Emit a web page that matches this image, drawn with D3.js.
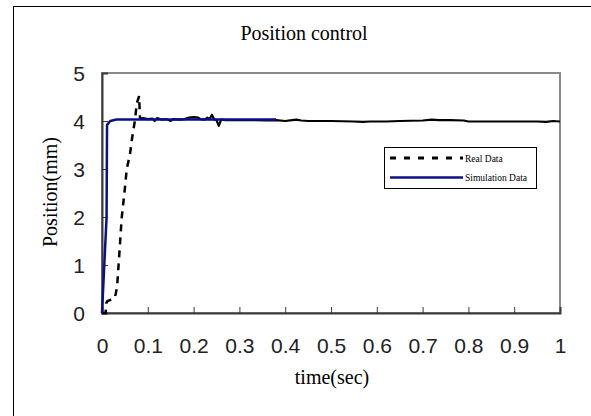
<html>
<head>
    <title>Position control</title>
    <style>
        body { margin: 0; background: white; }
        .tick text { font-family: "Liberation Sans", Arial, sans-serif; font-size: 21px; fill: #222; }
        .serif { font-family: "Liberation Serif", "Times New Roman", serif; fill: black; }
    </style>
    <script src="https://cdn.jsdelivr.net/npm/d3@7"></script>
</head>
<body>
<div id="chart"></div>
<script>
    // simulation result (blue)
    var simTime = [0, 0.01, 0.011, 0.018, 0.032, 0.38];
    var simPos  = [0, 2.0, 3.92, 4.0, 4.03, 4.03];

    // measured response, rising part (drawn dashed)
    var riseTime = [0, 0.008, 0.009, 0.012, 0.027, 0.03, 0.033, 0.036, 0.043, 0.05, 0.054,
                    0.061, 0.065, 0.072, 0.076, 0.081, 0.083];
    var risePos  = [0, 0, 0.2, 0.25, 0.3, 0.4, 0.55, 0.97, 1.98, 2.6, 3.0,
                    3.3, 3.6, 4.02, 4.37, 4.52, 4.05];

    // measured response, settled part (dense, looks solid)
    var settleTime = [0.083, 0.09, 0.1, 0.11, 0.115, 0.12, 0.13, 0.14, 0.15, 0.155, 0.17, 0.18,
                      0.19, 0.2, 0.21, 0.215, 0.225, 0.23, 0.235, 0.24, 0.245, 0.25, 0.255, 0.26,
                      0.27, 0.3, 0.33, 0.36, 0.38, 0.4, 0.415, 0.425, 0.435, 0.45, 0.5, 0.55,
                      0.57, 0.585, 0.62, 0.65, 0.7, 0.72, 0.735, 0.76, 0.79, 0.8, 0.85, 0.9,
                      0.95, 0.97, 0.985, 1.0];
    var settlePos  = [4.05, 4.06, 4.04, 4.05, 4.0, 4.06, 4.03, 4.04, 4.0, 4.04, 4.03, 4.04,
                      4.07, 4.08, 4.07, 4.04, 4.03, 4.07, 4.04, 4.13, 4.03, 4.02, 3.9, 4.03,
                      4.02, 4.02, 4.02, 4.01, 4.02, 4.0, 4.02, 4.03, 4.01, 4.0, 4.0, 3.99,
                      3.98, 3.99, 3.99, 4.0, 4.01, 4.03, 4.02, 4.02, 4.01, 3.99, 3.99, 3.99,
                      3.99, 3.98, 4.0, 3.99];

    var xTicks = [0, 0.1, 0.2, 0.3, 0.4, 0.5, 0.6, 0.7, 0.8, 0.9, 1];
    var yTicks = [0, 1, 2, 3, 4, 5];

    var svg = d3.select('#chart')
            .append('svg')
            .attr('width', 591)
            .attr('height', 416);

    // outer chart frame (right/bottom run off the picture)
    svg.append('rect')
            .attr('x', 13.5)
            .attr('y', 6.5)
            .attr('width', 620)
            .attr('height', 440)
            .attr('fill', 'white')
            .attr('stroke', 'black')
            .attr('stroke-width', 1);

    var plotLeft = 102, plotRight = 560, plotTop = 73, plotBottom = 313;

    var x = d3.scaleLinear().domain([0, 1]).range([plotLeft, plotRight]);
    var y = d3.scaleLinear().domain([0, 5]).range([plotBottom, plotTop]);

    // plot area border
    svg.append('rect')
            .attr('x', plotLeft)
            .attr('y', plotTop)
            .attr('width', plotRight - plotLeft)
            .attr('height', plotBottom - plotTop)
            .attr('fill', 'none')
            .attr('stroke', '#8a8a8a')
            .attr('stroke-width', 2);

    var xAxis = svg.append('g')
            .attr('transform', 'translate(0,' + plotBottom + ')')
            .call(d3.axisBottom(x).tickValues(xTicks).tickSize(-6).tickPadding(25)
                    .tickFormat(d3.format('~g')));

    var yAxis = svg.append('g')
            .attr('transform', 'translate(' + plotLeft + ',0)')
            .call(d3.axisLeft(y).tickValues(yTicks).tickSize(-6).tickPadding(17)
                    .tickFormat(d3.format('d')));

    [xAxis, yAxis].forEach(function(g) {
        g.select('.domain').attr('stroke', '#3a3a3a').attr('stroke-width', 2);
        g.selectAll('.tick line').attr('stroke', '#3a3a3a').attr('stroke-width', 1);
    });
    yAxis.selectAll('.tick text').attr('dy', '0.36em');

    var line = d3.line()
            .x(function(d) { return x(d[0]); })
            .y(function(d) { return y(d[1]); });

    var rise = d3.zip(riseTime, risePos);
    var settle = d3.zip(settleTime, settlePos);
    var sim = d3.zip(simTime, simPos);

    svg.append('path')
            .attr('d', line(rise))
            .attr('fill', 'none')
            .attr('stroke', 'black')
            .attr('stroke-width', 2.5)
            .attr('stroke-dasharray', '7,6');

    svg.append('path')
            .attr('d', line(settle))
            .attr('fill', 'none')
            .attr('stroke', 'black')
            .attr('stroke-width', 2.2)
            .attr('stroke-linejoin', 'round');

    svg.append('path')
            .attr('d', line(sim))
            .attr('fill', 'none')
            .attr('stroke', '#0a108a')
            .attr('stroke-width', 2.5)
            .attr('stroke-linejoin', 'round');

    // titles
    svg.append('text')
            .attr('class', 'serif')
            .attr('x', 304)
            .attr('y', 40)
            .attr('text-anchor', 'middle')
            .style('font-size', '20px')
            .text('Position control');

    svg.append('text')
            .attr('class', 'serif')
            .attr('x', 332)
            .attr('y', 384)
            .attr('text-anchor', 'middle')
            .style('font-size', '20px')
            .text('time(sec)');

    svg.append('text')
            .attr('class', 'serif')
            .attr('transform', 'translate(57,192) rotate(-90)')
            .attr('text-anchor', 'middle')
            .style('font-size', '20px')
            .text('Position(mm)');

    // legend
    var legend = svg.append('g');
    legend.append('rect')
            .attr('x', 384.5)
            .attr('y', 147.5)
            .attr('width', 152)
            .attr('height', 41)
            .attr('fill', 'white')
            .attr('stroke', 'black')
            .attr('stroke-width', 1);

    var legendItems = [
        { name: 'Real Data', color: 'black', dash: '6,8', ly: 158 },
        { name: 'Simulation Data', color: '#0a108a', dash: null, ly: 177.5 }
    ];

    legendItems.forEach(function(item) {
        legend.append('line')
                .attr('x1', 390)
                .attr('x2', 463)
                .attr('y1', item.ly)
                .attr('y2', item.ly)
                .attr('stroke', item.color)
                .attr('stroke-width', item.dash ? 3 : 2.5)
                .attr('stroke-dasharray', item.dash);
        legend.append('text')
                .attr('class', 'serif')
                .attr('x', 465)
                .attr('y', item.ly + 3.5)
                .style('font-size', '9.5px')
                .text(item.name);
    });
</script>
</body>
</html>
